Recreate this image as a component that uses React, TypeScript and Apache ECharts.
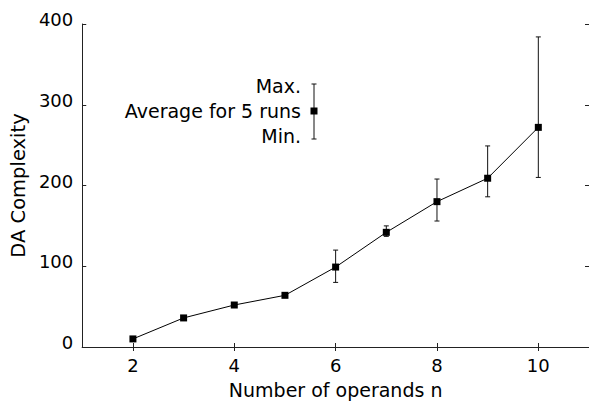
import React, { useEffect, useRef } from "react";
import * as echarts from "echarts";

const operands = [2, 3, 4, 5, 6, 7, 8, 9, 10];
const averages = [10, 36, 52, 64, 99, 142, 180, 209, 272];
const errN = [6, 7, 8, 9, 10];
const errMin = [80, 137, 156, 186, 210];
const errMax = [120, 150, 208, 249, 384];
const xTicks = [2, 4, 6, 8, 10];
const yTicks = [0, 100, 200, 300, 400];
const legendLabels = ["Max.", "Average for 5 runs", "Min."];

const FONT = "DejaVu Sans";

export default function App() {
  const ref = useRef<HTMLDivElement>(null);
  useEffect(() => {
    if (!ref.current) return;
    const chart = echarts.init(ref.current, undefined, { renderer: "svg" });
    const axisLine = { show: true, lineStyle: { color: "#222", width: 1 } };
    const tick = { show: true, inside: true, length: 4, lineStyle: { color: "#222", width: 1 } };
    const lineData = operands.map((n, i) => [n, averages[i]]);
    const errData = errN.map((n, i) => [n, errMin[i], errMax[i]]);

    const lx = 314;
    const ly = 111;
    const legendFont = `19px '${FONT}'`;
    chart.setOption({
      animation: false,
      backgroundColor: "#fff",
      grid: { left: 80, top: 24, width: 511, height: 323 },
      xAxis: [
        {
          type: "value",
          min: 1,
          max: 11,
          interval: 1,
          position: "bottom",
          splitLine: { show: false },
          axisLine,
          axisTick: { ...tick, customValues: xTicks },
          axisLabel: { customValues: xTicks, margin: 9, color: "#000", fontFamily: FONT, fontSize: 18 },
          name: "Number of operands n",
          nameLocation: "middle",
          nameGap: 33,
          nameTextStyle: { color: "#000", fontFamily: FONT, fontSize: 19 },
        },
        {
          type: "value",
          min: 1,
          max: 11,
          interval: 1,
          position: "top",
          splitLine: { show: false },
          axisLine,
          axisTick: { ...tick, customValues: xTicks },
          axisLabel: { show: false },
        },
      ],
      yAxis: [
        {
          type: "value",
          min: 0,
          max: 400,
          interval: 100,
          position: "left",
          splitLine: { show: false },
          axisLine,
          axisTick: { ...tick, customValues: yTicks },
          axisLabel: {
            customValues: yTicks,
            margin: 9,
            formatter: (v: number) => `{a|${v}}`,
            rich: {
              a: { padding: [0, 0, 9, 0], color: "#000", fontFamily: FONT, fontSize: 18 },
            },
            color: "#000",
            fontFamily: FONT,
            fontSize: 18,
          },
          name: "DA Complexity",
          nameLocation: "middle",
          nameGap: 49,
          nameTextStyle: { color: "#000", fontFamily: FONT, fontSize: 19.5 },
        },
        {
          type: "value",
          min: 0,
          max: 400,
          interval: 100,
          position: "right",
          splitLine: { show: false },
          axisLine,
          axisTick: { ...tick, customValues: yTicks },
          axisLabel: { show: false },
        },
      ],
      series: [
        {
          type: "custom",
          xAxisIndex: 0,
          yAxisIndex: 0,
          data: errData,
          z: 2,
          renderItem: (params: any, api: any) => {
            const x = api.value(0);
            const lo = api.coord([x, api.value(1)]);
            const hi = api.coord([x, api.value(2)]);
            const cw = 2.5;
            const style = { stroke: "#111", lineWidth: 1 };
            return {
              type: "group",
              children: [
                { type: "line", shape: { x1: lo[0], y1: lo[1], x2: hi[0], y2: hi[1] }, style },
                { type: "line", shape: { x1: lo[0] - cw, y1: lo[1], x2: lo[0] + cw, y2: lo[1] }, style },
                { type: "line", shape: { x1: hi[0] - cw, y1: hi[1], x2: hi[0] + cw, y2: hi[1] }, style },
              ],
            };
          },
        },
        {
          type: "line",
          xAxisIndex: 0,
          yAxisIndex: 0,
          data: lineData,
          symbol: "rect",
          symbolSize: 7,
          z: 3,
          lineStyle: { color: "#000", width: 1 },
          itemStyle: { color: "#000" },
        },
      ],
      graphic: [
        {
          type: "group",
          children: [
            {
              type: "text",
              x: lx - 13,
              y: ly - 25,
              style: { text: legendLabels[0], align: "right", verticalAlign: "middle", fill: "#000", font: legendFont },
            },
            {
              type: "text",
              x: lx - 13,
              y: ly,
              style: { text: legendLabels[1], align: "right", verticalAlign: "middle", fill: "#000", font: legendFont },
            },
            {
              type: "text",
              x: lx - 13,
              y: ly + 25,
              style: { text: legendLabels[2], align: "right", verticalAlign: "middle", fill: "#000", font: legendFont },
            },
            { type: "line", shape: { x1: lx, y1: ly - 27, x2: lx, y2: ly + 28 }, style: { stroke: "#111", lineWidth: 1 } },
            { type: "line", shape: { x1: lx - 2.5, y1: ly - 27, x2: lx + 2.5, y2: ly - 27 }, style: { stroke: "#111", lineWidth: 1 } },
            { type: "line", shape: { x1: lx - 2.5, y1: ly + 28, x2: lx + 2.5, y2: ly + 28 }, style: { stroke: "#111", lineWidth: 1 } },
            { type: "rect", shape: { x: lx - 3.5, y: ly - 3.5, width: 7, height: 7 }, style: { fill: "#000" } },
          ],
        },
      ],
    });
    return () => chart.dispose();
  }, []);
  return <div ref={ref} style={{ position: "absolute", left: 0, top: 0, width: 589, height: 406 }} />;
}
